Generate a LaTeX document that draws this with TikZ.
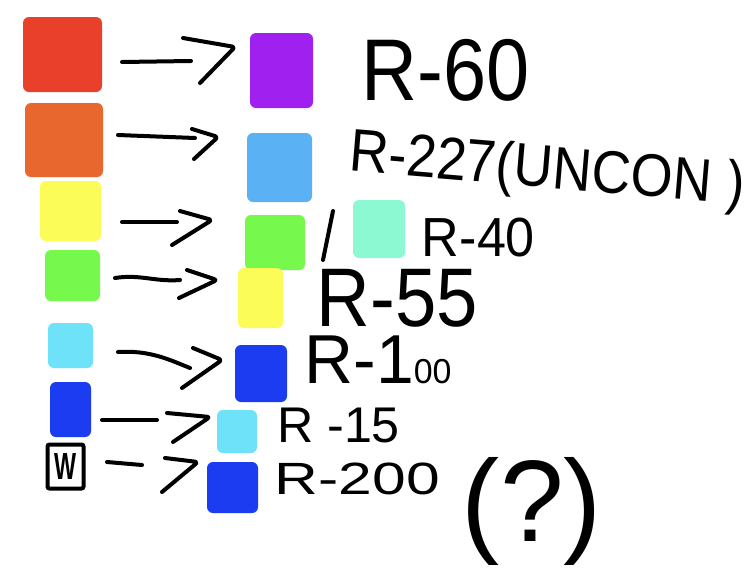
\documentclass[tikz,border=0pt]{standalone}
\usepackage{fontspec}
\setmainfont{Liberation Sans}
\usepackage{graphicx}
\definecolor{cred}{HTML}{E8402A}
\definecolor{corange}{HTML}{E8672F}
\definecolor{cyellow}{HTML}{FCFC58}
\definecolor{cgreen}{HTML}{76F84C}
\definecolor{ccyan}{HTML}{6DE2F8}
\definecolor{cblue}{HTML}{1B3CF0}
\definecolor{cpurple}{HTML}{A020F0}
\definecolor{csky}{HTML}{5AB1F4}
\definecolor{cmint}{HTML}{8DF9D3}
\newcommand{\fitbox}[3]{\resizebox*{#1pt}{#2pt}{#3}}
\tikzset{
  swatch/.style={rounded corners=6pt, inner sep=0pt, outer sep=0pt},
  pen/.style={line width=4pt, line cap=round, line join=round, rounded corners=3pt},
  txt/.style={inner sep=0pt, outer sep=0pt, text=black}
}
\begin{document}
\begin{tikzpicture}[x=1pt,y=-1pt]
\useasboundingbox (0,0) rectangle (755,568);
\fill[white] (0,0) rectangle (755,568);
% left swatches
\node[swatch, fill=cred, minimum width=79pt, minimum height=75pt] (l1) at (62.5,54.5) {};
\node[swatch, fill=corange, minimum width=78pt, minimum height=74pt] (l2) at (64,140) {};
\node[swatch, fill=cyellow, minimum width=61pt, minimum height=60pt] (l3) at (70.5,211) {};
\node[swatch, fill=cgreen, minimum width=55pt, minimum height=51pt] (l4) at (72.5,275.5) {};
\node[swatch, fill=ccyan, minimum width=45pt, minimum height=45pt] (l5) at (70.5,345.5) {};
\node[swatch, fill=cblue, minimum width=41pt, minimum height=55pt] (l6) at (70.5,409.5) {};
\node[txt, draw=black, line width=4pt, rounded corners=2pt, minimum width=36pt, minimum height=44pt] (l7) at (65.5,466.5) {\fitbox{22}{26}{\textbf{W}}};
% right swatches
\node[swatch, fill=cpurple, minimum width=63pt, minimum height=75pt] (r1) at (281.5,70.5) {};
\node[swatch, fill=csky, minimum width=65pt, minimum height=69pt] (r2) at (279.5,167.5) {};
\node[swatch, fill=cgreen, minimum width=60pt, minimum height=55pt] (r3) at (275,242.5) {};
\node[swatch, fill=cmint, minimum width=52pt, minimum height=58pt] (r3b) at (379,229) {};
\node[swatch, fill=cyellow, minimum width=45pt, minimum height=60pt] (r4) at (260.5,298) {};
\node[swatch, fill=cblue, minimum width=52pt, minimum height=57pt] (r5) at (261,373.5) {};
\node[swatch, fill=ccyan, minimum width=40pt, minimum height=43pt] (r6) at (237,431.5) {};
\node[swatch, fill=cblue, minimum width=51pt, minimum height=51pt] (r7) at (232.5,487.5) {};
% labels
\node[txt] (t1) at (446,70) {\fitbox{168}{62}{R-60}};
\node[txt, rotate=-4.8] (t2) at (547,172) {\fitbox{396}{56}{R-227(UNCON )}};
\node[txt] (t3) at (478.5,237.5) {\fitbox{113}{39}{R-40}};
\node[txt] (t4) at (397.5,298) {\fitbox{161}{58}{R-55}};
\node[txt] (t5) at (378,360) {\fitbox{147}{48}{R-1{\fontsize{5}{5}\selectfont 00}}};
\node[txt] (t6) at (338.5,425.5) {\fitbox{123}{35}{R -15}};
\node[txt] (t7) at (357.5,479) {\fitbox{165}{32}{R-200}};
\node[txt] (t8) at (532,511) {\fitbox{140}{108}{(?)}};
% arrow coordinates
\coordinate (a1s) at (122,62);  \coordinate (a1e) at (191,61);
\coordinate (a2s) at (118,135); \coordinate (a2e) at (195,138);
\coordinate (a3s) at (122,222); \coordinate (a3e) at (177,222);
\coordinate (a4s) at (115,278); \coordinate (a4e) at (180,280);
\coordinate (a5s) at (118,352); \coordinate (a5e) at (190,368);
\coordinate (a6s) at (102,420); \coordinate (a6e) at (157,420);
\coordinate (a7s) at (107,462); \coordinate (a7e) at (142,465);
% arrow shafts
\draw[pen] (a1s) -- (a1e);
\draw[pen] (a2s) -- (a2e);
\draw[pen] (a3s) -- (a3e);
\draw[pen] (a4s) .. controls (140,274) and (155,282) .. (a4e);
\draw[pen] (a5s) .. controls (150,350) and (170,360) .. (a5e);
\draw[pen] (a6s) -- (a6e);
\draw[pen] (a7s) -- (a7e);
% arrow heads (hand-drawn chevrons)
\draw[pen] (183,38) -- (235,47) -- (200,83);
\draw[pen] (192,129) -- (218,137) -- (194,159);
\draw[pen] (180,211) -- (212,220) -- (172,245);
\draw[pen] (187,270) -- (217,280) -- (179,298);
\draw[pen] (193,348) -- (222,360) -- (182,388);
\draw[pen] (167,413) -- (210,417) -- (173,442);
\draw[pen] (165,458) -- (198,462) -- (162,492);
% slash
\draw[pen] (323,260) -- (333,211);
\end{tikzpicture}
\end{document}
